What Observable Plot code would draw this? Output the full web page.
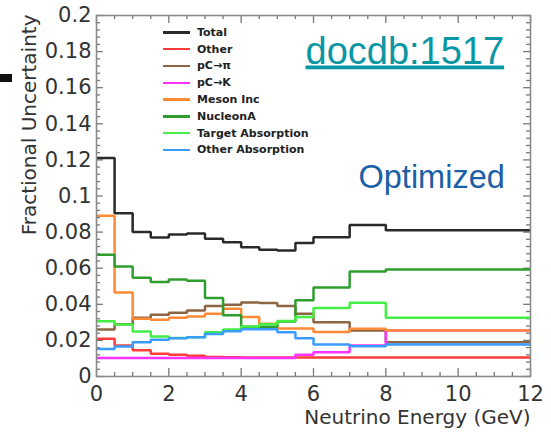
<!DOCTYPE html>
<html>
<head>
<meta charset="utf-8">
<script src="https://cdn.jsdelivr.net/npm/d3@7"></script>
<script src="https://cdn.jsdelivr.net/npm/@observablehq/plot@0.6"></script>
<style>
  html, body { margin: 0; padding: 0; background: #fff; }
  #wrap { position: relative; width: 551px; height: 434px; overflow: hidden; }
  #bar { position: absolute; left: 0; top: 74px; width: 12px; height: 8px; background: #111; }
  #legend { position: absolute; left: 163px; top: 24px; font-family: "DejaVu Sans", sans-serif; font-weight: bold; font-size: 11px; color: #222; }
  #legend .row { height: 16.8px; display: flex; align-items: center; }
  #legend .sw { width: 27px; height: 2.5px; margin-right: 7px; }
</style>
</head>
<body>
<div id="wrap"><div id="bar"></div><div id="legend"></div></div>
<script>
// Bin edges (GeV) and per-bin fractional uncertainties
const edges = [0, 0.5, 1, 1.5, 2, 2.5, 3, 3.5, 4, 4.5, 5, 5.5, 6, 7, 8, 12];
const total     = [0.121, 0.0905, 0.080, 0.077, 0.0787, 0.0792, 0.0763, 0.0744, 0.0716, 0.0702, 0.0698, 0.0739, 0.0772, 0.084, 0.081];
const other     = [0.0209, 0.0172, 0.0146, 0.0126, 0.012, 0.0115, 0.0108, 0.0106, 0.0105, 0.0105, 0.0105, 0.0105, 0.0105, 0.0105, 0.0105];
const pcPi      = [0.026, 0.029, 0.0325, 0.0342, 0.0353, 0.0366, 0.039, 0.0398, 0.041, 0.0407, 0.039, 0.0348, 0.030, 0.0255, 0.019];
const pcK       = [0.0102, 0.0102, 0.0102, 0.0102, 0.0102, 0.0102, 0.0102, 0.0102, 0.0102, 0.0102, 0.0102, 0.012, 0.0135, 0.0172, 0.0255];
const mesonInc  = [0.089, 0.0465, 0.032, 0.0314, 0.0325, 0.0332, 0.0347, 0.0375, 0.0329, 0.0292, 0.0266, 0.0266, 0.0246, 0.0264, 0.0255];
const nucleonA  = [0.0675, 0.061, 0.0547, 0.0523, 0.0537, 0.053, 0.0435, 0.034, 0.0275, 0.0275, 0.0305, 0.0423, 0.0493, 0.0582, 0.0593];
const targetAbs = [0.0306, 0.0288, 0.025, 0.0221, 0.0213, 0.0218, 0.0245, 0.026, 0.0277, 0.029, 0.0308, 0.033, 0.038, 0.0408, 0.0325];
const otherAbs  = [0.0153, 0.0166, 0.019, 0.0203, 0.0212, 0.0218, 0.0236, 0.0251, 0.0262, 0.0262, 0.0245, 0.0212, 0.0177, 0.0168, 0.0177];

const seriesNames  = ["Total", "Other", "pC\u2192\u03c0", "pC\u2192K", "Meson Inc", "NucleonA", "Target Absorption", "Other Absorption"];
const seriesValues = [total, other, pcPi, pcK, mesonInc, nucleonA, targetAbs, otherAbs];
const seriesColors = ["#2a2a2a", "#ff3b3b", "#8c6642", "#ff33ff", "#ff8a36", "#2f9e2f", "#44ee44", "#3a9cff"];

const xLabelTicks = [0, 2, 4, 6, 8, 10, 12];
const xMinorTicks = d3.range(0, 12.001, 0.5);
const yLabelTicks = [0, 0.02, 0.04, 0.06, 0.08, 0.1, 0.12, 0.14, 0.16, 0.18, 0.2];
const yMinorTicks = d3.range(0, 0.2001, 0.004);

// build step rows (series kept in drawing order: Total first, Other Absorption last)
const rows = [];
seriesNames.forEach((name, s) => {
  const v = seriesValues[s];
  v.forEach((val, i) => rows.push({series: name, x: edges[i], y: val}));
  rows.push({series: name, x: edges[edges.length - 1], y: v[v.length - 1]});
});

const tickColor = "#777";
const majY = 0.0044, minY = 0.0022;   // tick lengths in y units
const majX = 0.19, minX = 0.11;       // tick lengths in x units
const isMajorY = d => Math.abs(d / 0.02 - Math.round(d / 0.02)) < 1e-6;
const fmt = d => String(+d.toFixed(3));

const chart = Plot.plot({
  width: 551, height: 434,
  marginLeft: 96, marginRight: 21, marginTop: 15, marginBottom: 58,
  x: {domain: [0, 12]},
  y: {domain: [0, 0.2]},
  color: {domain: seriesNames, range: seriesColors},
  style: {fontFamily: "DejaVu Sans, sans-serif", background: "transparent", color: "#333", overflow: "visible"},
  marks: [
    Plot.ruleX(xMinorTicks, {x: d => d, y1: 0, y2: d => (d % 2 === 0 ? majY : minY), stroke: tickColor, strokeWidth: 1.3}),
    Plot.ruleX(xMinorTicks, {x: d => d, y1: 0.2, y2: d => 0.2 - (d % 2 === 0 ? majY : minY), stroke: tickColor, strokeWidth: 1.3}),
    Plot.ruleY(yMinorTicks, {y: d => d, x1: 0, x2: d => (isMajorY(d) ? majX : minX), stroke: tickColor, strokeWidth: 1.3}),
    Plot.ruleY(yMinorTicks, {y: d => d, x1: 12, x2: d => 12 - (isMajorY(d) ? majX : minX), stroke: tickColor, strokeWidth: 1.3}),
    Plot.line(rows, {x: "x", y: "y", z: "series", stroke: "series", curve: "step-after", strokeWidth: 2.5, strokeLinejoin: "miter", strokeLinecap: "butt"}),
    Plot.frame({stroke: "#8a8a8a", strokeWidth: 1.6}),
    Plot.axisX({ticks: xLabelTicks, tickSize: 0, tickPadding: 10, fontSize: 21, label: null, tickFormat: d => String(d), fill: "#333"}),
    Plot.axisY({ticks: yLabelTicks, tickSize: 0, tickPadding: 5, fontSize: 21, label: null, tickFormat: fmt, fill: "#333"}),
    Plot.text(["Neutrino Energy (GeV)"], {text: d => d, frameAnchor: "bottom-right", dy: 41, textAnchor: "end", lineAnchor: "middle", fontSize: 20, fill: "#333"}),
    Plot.text(["Fractional Uncertainty"], {text: d => d, frameAnchor: "top-left", dx: -67, dy: -1, rotate: -90, textAnchor: "end", lineAnchor: "middle", fontSize: 20, fill: "#333"}),
    Plot.text(["docdb:1517"], {text: d => d, frameAnchor: "top-left", dx: 209, dy: 48, textAnchor: "start", lineAnchor: "bottom", fontSize: 38, fontFamily: "Liberation Sans, Arial, sans-serif", fill: "#0a97a3"}),
    Plot.text(["Optimized"], {text: d => d, frameAnchor: "top-left", dx: 262, dy: 172, textAnchor: "start", lineAnchor: "bottom", fontSize: 32.5, fontFamily: "Liberation Sans, Arial, sans-serif", fill: "#1c5fa6"})
  ]
});

d3.select(chart).selectAll("text").each(function() {
  if (this.textContent === "docdb:1517") this.style.textDecoration = "underline";
});

const wrap = document.getElementById("wrap");
chart.style.position = "absolute";
chart.style.left = "0";
chart.style.top = "0";
wrap.insertBefore(chart, wrap.firstChild);

const legend = document.getElementById("legend");
seriesNames.forEach((name, i) => {
  const row = document.createElement("div");
  row.className = "row";
  const sw = document.createElement("span");
  sw.className = "sw";
  sw.style.background = seriesColors[i];
  const lab = document.createElement("span");
  lab.textContent = name;
  row.appendChild(sw);
  row.appendChild(lab);
  legend.appendChild(row);
});
</script>
</body>
</html>
